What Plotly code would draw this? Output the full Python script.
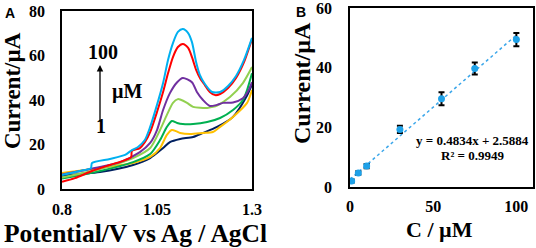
import plotly.graph_objects as go

# ---------- Panel A data (potential V, current uA) ----------
v_100 = [0.800,0.847,0.876,0.879,0.926,0.966,0.984,1.000,1.018,1.032,1.050,1.066,1.079,1.092,1.105,1.118,1.132,1.142,1.153,1.163,1.176,1.195,1.216,1.237,1.258,1.279,1.300]
i_100 = [6.3,8.1,9.4,11.7,13.5,15.3,17.5,18.9,22,27.9,37.8,47.6,58,65.6,70.6,71.9,70.1,66,57,51.2,47.2,43.6,43.6,46.3,50.8,58,67.9]

v_75 = [0.800,0.834,0.879,0.926,0.966,0.982,0.984,1.005,1.018,1.032,1.050,1.066,1.079,1.092,1.105,1.118,1.132,1.142,1.153,1.163,1.176,1.189,1.203,1.216,1.237,1.258,1.279,1.300]
i_75 = [3.3,4.9,8.1,10.8,13.0,14.4,17.1,18.4,21,25.6,34.6,43.6,52,59.3,63.8,65.2,63.4,59.3,53.5,49.9,46.7,43.6,42.2,42.7,45.4,49.9,57,67.4]

v_55 = [0.800,0.900,0.953,1.005,1.032,1.050,1.066,1.084,1.103,1.118,1.142,1.155,1.171,1.189,1.208,1.224,1.250,1.276,1.290,1.300]
i_55 = [6.5,9.9,12.1,16.6,20.7,26.5,35.5,43.1,48,49.9,48,43.6,40,37.3,37.8,38.7,38.9,40.8,44,48]

v_30 = [0.800,0.900,0.987,1.032,1.058,1.076,1.092,1.105,1.111,1.129,1.145,1.182,1.197,1.208,1.242,1.276,1.300]
i_30 = [5.2,9.0,13.9,18.4,26.5,33.3,38.7,40.4,40.2,38.7,36.9,36.4,36.9,37.5,41.3,47.6,54.8]

v_10 = [0.800,0.900,0.987,1.032,1.058,1.076,1.089,1.103,1.118,1.145,1.182,1.216,1.250,1.276,1.287,1.300]
i_10 = [4.7,8.1,12.1,15.7,22,27.9,30.6,29.7,29.2,29.2,30.1,31.9,35.5,40,44.5,52]

v_5 = [0.800,0.900,0.987,1.032,1.058,1.076,1.089,1.100,1.111,1.137,1.171,1.197,1.216,1.250,1.287,1.300]
i_5 = [7.2,9.4,11.7,14.4,18.4,24.3,26.5,26,25.2,24.7,25.2,25.6,27.9,32.4,38.7,44.5]

v_1 = [0.800,0.900,0.987,1.032,1.066,1.084,1.111,1.145,1.171,1.208,1.250,1.287,1.300]
i_1 = [6.0,7.6,10.8,13.9,18.4,21.1,22.5,23.4,25.2,27.9,32.4,42,47]

curves = [
    (v_1, i_1, "#002060"),
    (v_5, i_5, "#ffc000"),
    (v_10, i_10, "#00b050"),
    (v_30, i_30, "#92d050"),
    (v_55, i_55, "#7030a0"),
    (v_75, i_75, "#ff0000"),
    (v_100, i_100, "#00b0f0"),
]

# ---------- Panel B data ----------
conc = [1, 5, 10, 30, 55, 75, 100]
peak_current = [2.0, 4.7, 7.0, 19.3, 29.6, 39.7, 49.4]
peak_err = [0.5, 0.6, 0.7, 1.2, 2.2, 2.0, 2.2]
slope = 0.4834
intercept = 2.5884
fit_x = [0, 100]

A_xticks = [0.8, 1.05, 1.3]
A_yticks = [0, 20, 40, 60, 80]
B_xticks = [0, 50, 100]
B_yticks = [0, 20, 40, 60]

fig = go.Figure()
for vx, iy, col in curves:
    fig.add_trace(go.Scatter(x=vx, y=iy, mode="lines",
                             line=dict(color=col, width=2, shape="spline", smoothing=0.7),
                             xaxis="x", yaxis="y", showlegend=False, hoverinfo="skip"))

fig.add_trace(go.Scatter(x=fit_x, y=[slope * x + intercept for x in fit_x], mode="lines",
                         line=dict(color="#3aa6ea", width=1.5, dash="dot"),
                         xaxis="x2", yaxis="y2", showlegend=False))
fig.add_trace(go.Scatter(x=conc, y=peak_current, mode="markers",
                         marker=dict(color="#1ea1e8", size=7),
                         error_y=dict(type="data", array=peak_err, color="black", thickness=2, width=3),
                         xaxis="x2", yaxis="y2", showlegend=False))

tickfont = dict(family="Liberation Serif", size=16, color="black", weight="bold")
axis_common = dict(showline=True, linecolor="black", linewidth=1.5, mirror=True,
                   showgrid=False, zeroline=False, ticks="", tickfont=tickfont,
                   automargin=False, ticklabeloverflow="allow")

fig.update_layout(
    width=536, height=248,
    margin=dict(l=0, r=0, t=0, b=0, autoexpand=False),
    paper_bgcolor="white", plot_bgcolor="white",
    xaxis=dict(domain=[62/536, 252/536], range=[0.8, 1.3], tickvals=A_xticks,
               ticktext=["0.8", "1.05", "1.3"], anchor="y", ticklabelstandoff=5, **axis_common),
    yaxis=dict(domain=[1-189/248, 1-11/248], range=[0, 80], tickvals=A_yticks,
               anchor="x", ticklabelstandoff=12, **axis_common),
    xaxis2=dict(domain=[350/536, 533/536], range=[0, 110], tickvals=B_xticks,
                anchor="y2", ticklabelstandoff=4, **axis_common),
    yaxis2=dict(domain=[1-187/248, 1-8/248], range=[0, 60], tickvals=B_yticks,
                anchor="x2", ticklabelstandoff=13, **axis_common),
)

def txt(x, y, s, size, angle=0, family="Liberation Serif", xanchor="center"):
    fig.add_annotation(x=x/536, y=1-y/248, xref="paper", yref="paper", text="<b>"+s+"</b>",
                       showarrow=False, textangle=angle, xanchor=xanchor, yanchor="middle",
                       font=dict(family=family, size=size, color="black"))

txt(12, 91, "Current/µA", 23, angle=-90)
txt(135, 233, "Potential/V vs Ag / AgCl", 25.5)
txt(302, 83, "Current/µA", 24, angle=-90)
txt(439, 229, "C / µM", 22)
txt(10, 13, "A", 14, family="Liberation Sans")
txt(301, 12, "B", 14, family="Liberation Sans")
txt(103, 52, "100", 20)
txt(127, 91, "µM", 20)
txt(101, 126, "1", 20)
txt(472, 140, "y = 0.4834x + 2.5884", 13)
txt(472, 155, "R² = 0.9949", 13)

fig.add_annotation(x=100/536, y=1-65/248, xref="paper", yref="paper", ax=0, ay=58,
                   text="", showarrow=True, arrowhead=2, arrowsize=1, arrowwidth=1.3,
                   arrowcolor="black")

fig.write_html("out.html", config={"displayModeBar": False},
               post_script="document.body.style.margin='0';document.body.style.padding='0';document.body.style.overflow='hidden';")
